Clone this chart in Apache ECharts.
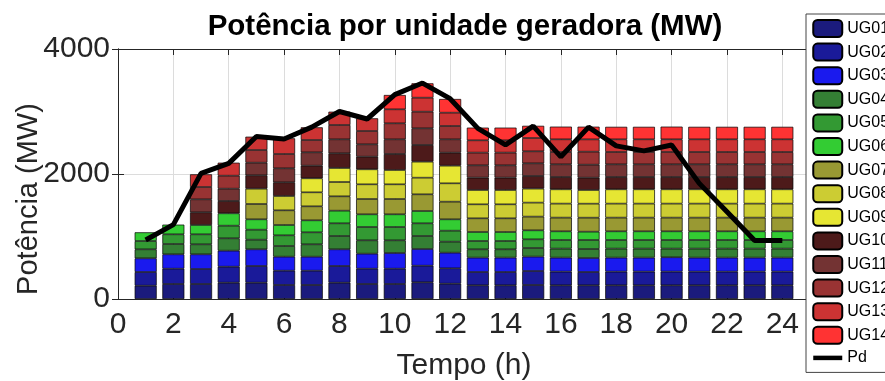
<!DOCTYPE html>
<html>
<head>
<meta charset="utf-8">
<script src="https://cdn.jsdelivr.net/npm/echarts@6/dist/echarts.min.js"></script>
<style>
  html, body { margin: 0; padding: 0; background: #fff; }
  #chart { width: 885px; height: 381px; }
</style>
</head>
<body>
<div id="chart"></div>
<script>
// Hours of the dispatch horizon
const hours = [1, 2, 3, 4, 5, 6, 7, 8, 9, 10, 11, 12, 13, 14, 15, 16, 17, 18, 19, 20, 21, 22, 23, 24];

// Power per generating unit (MW)
const UG01 = [213, 240, 240, 261, 261, 224, 224, 261, 240, 240, 267, 245, 219, 219, 224, 219, 219, 219, 219, 219, 219, 219, 219, 219];
const UG02 = [219, 245, 240, 256, 267, 229, 229, 267, 245, 245, 266, 246, 213, 213, 224, 219, 213, 219, 219, 219, 219, 219, 219, 219];
const UG03 = [219, 230, 235, 256, 267, 224, 224, 267, 240, 251, 267, 250, 230, 230, 230, 224, 224, 224, 224, 230, 224, 224, 224, 224];
const UG04 = [144, 165, 160, 198, 154, 171, 198, 213, 214, 203, 208, 176, 133, 133, 138, 144, 144, 144, 144, 138, 144, 144, 144, 144];
const UG05 = [133, 155, 160, 202, 160, 171, 192, 203, 213, 213, 203, 176, 133, 133, 139, 138, 144, 138, 138, 138, 138, 138, 138, 138];
const UG06 = [139, 155, 149, 198, 166, 165, 192, 202, 203, 203, 197, 182, 144, 144, 144, 139, 133, 139, 139, 139, 139, 139, 139, 139];
const UG07 = [0, 0, 0, 0, 245, 235, 224, 230, 245, 245, 267, 282, 219, 219, 219, 219, 224, 219, 219, 219, 219, 219, 219, 219];
const UG08 = [0, 0, 0, 0, 245, 229, 224, 229, 235, 235, 266, 294, 224, 224, 224, 224, 224, 224, 224, 224, 224, 224, 224, 224];
const UG09 = [0, 0, 0, 0, 0, 0, 224, 224, 240, 229, 256, 282, 229, 229, 224, 229, 219, 229, 229, 229, 229, 229, 229, 229];
const UG10 = [0, 0, 203, 197, 214, 219, 202, 235, 202, 256, 267, 208, 198, 198, 202, 197, 197, 197, 197, 197, 197, 197, 197, 197];
const UG11 = [0, 0, 208, 197, 202, 224, 214, 224, 198, 235, 267, 214, 197, 197, 203, 203, 208, 203, 203, 203, 203, 203, 203, 203];
const UG12 = [0, 0, 197, 208, 203, 229, 197, 229, 213, 256, 266, 213, 203, 203, 192, 197, 208, 197, 197, 197, 197, 197, 197, 197];
const UG13 = [0, 0, 203, 208, 213, 251, 203, 213, 203, 224, 224, 213, 197, 197, 213, 203, 197, 203, 203, 203, 203, 203, 203, 203];
const UG14 = [0, 0, 0, 0, 0, 0, 0, 0, 0, 229, 230, 219, 203, 203, 195, 203, 203, 200, 200, 203, 200, 200, 200, 200];

// Demand (MW)
const Pd = [945, 1190, 2010, 2170, 2600, 2560, 2750, 3000, 2880, 3270, 3455, 3205, 2730, 2465, 2765, 2275, 2750, 2450, 2370, 2465, 1850, 1395, 935, 935];

// Axis range and ticks
const X_MIN = 0, X_MAX = 25, X_STEP = 2;
const Y_MIN = 0, Y_MAX = 4000, Y_STEP = 2000;

const unitNames = ['UG01', 'UG02', 'UG03', 'UG04', 'UG05', 'UG06', 'UG07', 'UG08', 'UG09', 'UG10', 'UG11', 'UG12', 'UG13', 'UG14'];
const unitValues = [UG01, UG02, UG03, UG04, UG05, UG06, UG07, UG08, UG09, UG10, UG11, UG12, UG13, UG14];
const unitColors = ['#1b1b7d', '#1a1a99', '#1a1aee', '#347f34', '#339933', '#33cc33',
                    '#999933', '#cccc33', '#e6e633', '#4d1a1a', '#733333', '#993333', '#cc3333', '#ff3333'];

const textColor = '#262626';
const fontFamily = '"Liberation Sans", Arial, sans-serif';

// Slots of the hidden category axis: one per integer from X_MIN to X_MAX,
// so bars sit on the same positions as the visible value axis.
// Units that are off (0 MW) get no bar segment at all.
const slots = [];
for (let s = X_MIN; s <= X_MAX; s++) slots.push(String(s));
const toSlots = (values, dropZero) => slots.map(s => {
  const idx = hours.indexOf(Number(s));
  if (idx < 0) return null;
  const v = values[idx];
  return dropZero && v === 0 ? null : v;
});

const barSeries = unitNames.map((name, k) => ({
  name: name,
  type: 'bar',
  stack: 'units',
  barWidth: 22,
  xAxisIndex: 0,
  yAxisIndex: 0,
  itemStyle: { color: unitColors[k], borderColor: '#000', borderWidth: 0.7 },
  data: toSlots(unitValues[k], true)
}));

const demandSeries = {
  name: 'Pd',
  type: 'line',
  xAxisIndex: 0,
  yAxisIndex: 0,
  symbol: 'none',
  z: 10,
  lineStyle: { color: '#000', width: 5 },
  itemStyle: { color: '#000' },
  data: toSlots(Pd, false)
};

const chart = echarts.init(document.getElementById('chart'), null, { renderer: 'canvas' });

const axisLineStyle = { show: true, lineStyle: { color: textColor, width: 1 } };
const tickStyle = { show: true, inside: true, length: 6, lineStyle: { color: textColor, width: 1 } };

chart.setOption({
  animation: false,
  backgroundColor: '#fff',
  textStyle: { fontFamily: fontFamily },
  title: {
    text: 'Potência por unidade geradora (MW)',
    left: 460,
    textAlign: 'center',
    top: 7,
    textStyle: { fontFamily: fontFamily, fontSize: 29.5, fontWeight: 'bold', color: '#000' }
  },
  grid: { left: 118, right: 75, top: 49, bottom: 82, containLabel: false, outerBoundsMode: 'none' },
  legend: {
    orient: 'vertical',
    left: 806,
    top: 14,
    itemWidth: 29,
    itemHeight: 17,
    itemGap: 4.6,
    padding: [5, 40, 6, 5],
    backgroundColor: '#fff',
    borderColor: '#444',
    borderWidth: 1,
    borderRadius: 0,
    textStyle: { fontFamily: fontFamily, fontSize: 16, color: '#000', lineHeight: 17 },
    data: unitNames.concat([{
      name: 'Pd',
      itemStyle: { color: 'rgba(0,0,0,0)', borderWidth: 0, opacity: 0 },
      lineStyle: { color: '#000', width: 4.5, opacity: 1 }
    }])
  },
  xAxis: [
    {
      // hidden category axis carrying the marks
      type: 'category', data: slots, boundaryGap: false, show: false
    },
    {
      type: 'value', min: X_MIN, max: X_MAX, interval: X_STEP, position: 'bottom',
      axisLine: axisLineStyle, axisTick: tickStyle,
      splitLine: { show: true, lineStyle: { color: '#dcdcdc', width: 1 } },
      axisLabel: {
        fontSize: 30, color: textColor, margin: 11, fontFamily: fontFamily,
        formatter: v => (v > 24 ? '' : String(v))
      },
      name: 'Tempo (h)', nameLocation: 'middle', nameGap: 52, nameMoveOverlap: false,
      nameTextStyle: { fontSize: 30, color: textColor, fontFamily: fontFamily }
    },
    {
      type: 'value', min: X_MIN, max: X_MAX, interval: X_STEP, position: 'top',
      axisLine: axisLineStyle, axisTick: tickStyle,
      splitLine: { show: false }, axisLabel: { show: false }
    }
  ],
  yAxis: [
    {
      type: 'value', min: Y_MIN, max: Y_MAX, interval: Y_STEP, position: 'left',
      axisLine: axisLineStyle, axisTick: tickStyle,
      splitLine: { show: true, lineStyle: { color: '#dcdcdc', width: 1 } },
      axisLabel: { fontSize: 30, color: textColor, margin: 8, fontFamily: fontFamily, formatter: v => String(v) },
      name: 'Potência (MW)', nameLocation: 'middle', nameGap: 75, nameRotate: 90, nameMoveOverlap: false,
      nameTextStyle: { fontSize: 29, color: textColor, fontFamily: fontFamily, padding: [0, 50, 0, 0] }
    },
    {
      type: 'value', min: Y_MIN, max: Y_MAX, interval: Y_STEP, position: 'right',
      axisLine: axisLineStyle, axisTick: tickStyle,
      splitLine: { show: false }, axisLabel: { show: false }
    }
  ],
  series: barSeries.concat([demandSeries])
});
</script>
</body>
</html>
